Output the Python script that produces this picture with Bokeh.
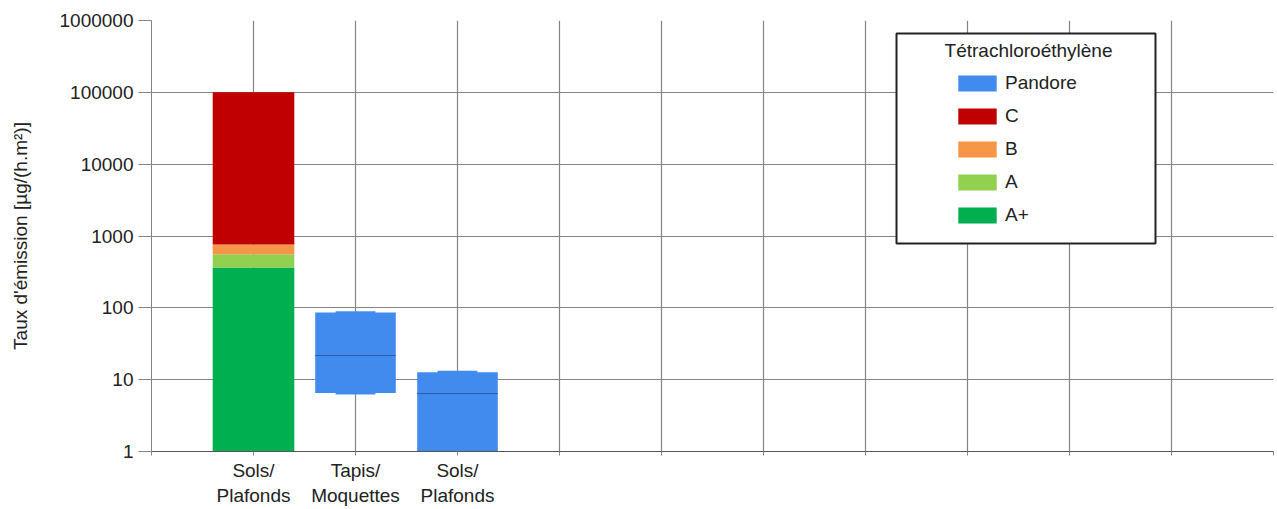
from bokeh.plotting import figure
from bokeh.models import (Range1d, FixedTicker, Legend, LegendItem, BoxAnnotation, Label)
from bokeh.embed import file_html
from bokeh.resources import INLINE

# ---------------- data ----------------
category_labels = ["Sols/\nPlafonds", "Tapis/\nMoquettes", "Sols/\nPlafonds"]
category_pos = [1, 2, 3]
n_slots = 11

# stacked label classes (first category)
class_names = ["A+", "A", "B", "C"]
class_tops = [365, 555, 760, 100000]
class_colors = ["#00b050", "#92d050", "#f79646", "#c00000"]

# Pandore distributions (categories 2 and 3)
pandore_pos = [2, 3]
pandore_min = [6.2, 1]
pandore_q1 = [6.5, 1]
pandore_median = [21.7, 6.4]
pandore_q3 = [86, 12.7]
pandore_max = [89.5, 13.3]
pandore_color = "#418bee"

y_ticks = [1, 10, 100, 1000, 10000, 100000, 1000000]
y_tick_labels = ["1", "10", "100", "1000", "10000", "100000", "1000000"]

legend_title = "Tétrachloroéthylène"
y_title = "Taux d'émission [µg/(h.m²)]"

FONT = "Liberation Sans"
GRID = "#858585"

p = figure(width=1277, height=509, x_range=Range1d(0, n_slots), y_range=Range1d(1, 1e6),
           y_axis_type="log", output_backend="svg", toolbar_location=None,
           min_border_left=151, min_border_right=4, min_border_top=20, min_border_bottom=58)
p.outline_line_color = None
p.background_fill_color = "white"

# stacked bar
bottoms = [1] + class_tops[:-1]
class_renderers = {}
for name, b, t, c in zip(class_names, bottoms, class_tops, class_colors):
    r = p.vbar(x=[category_pos[0]], bottom=[b], top=[t], width=0.8,
               fill_color=c, line_color=None)
    class_renderers[name] = r

# Pandore boxes
r_p1 = p.vbar(x=pandore_pos, bottom=pandore_min, top=pandore_max, width=0.39,
              fill_color=pandore_color, line_color=None)
r_p2 = p.vbar(x=pandore_pos, bottom=pandore_q1, top=pandore_q3, width=0.79,
              fill_color=pandore_color, line_color=None)
p.segment(x0=[x - 0.395 for x in pandore_pos], x1=[x + 0.395 for x in pandore_pos],
          y0=pandore_median, y1=pandore_median, line_color="#355e94", line_width=1)

# axes
p.xaxis.ticker = FixedTicker(ticks=list(range(0, n_slots + 1)))
p.xaxis.major_label_overrides = {i: "" for i in range(0, n_slots + 1)}
p.xaxis.major_label_overrides.update({pos: lab for pos, lab in zip(category_pos, category_labels)})
p.xaxis.major_label_text_font = FONT
p.xaxis.major_label_text_font_size = "19px"
p.xaxis.major_label_text_color = "#222222"
p.xaxis.major_label_text_line_height = 1.2
p.xaxis.major_label_standoff = 4
p.xaxis.major_tick_out = 4
p.xaxis.major_tick_in = 0
p.xaxis.minor_tick_out = 0
p.xaxis.major_tick_line_color = GRID
p.xaxis.axis_line_color = "#555555"

p.yaxis.ticker = FixedTicker(ticks=y_ticks)
p.yaxis.major_label_overrides = {t: l for t, l in zip(y_ticks, y_tick_labels)}
p.yaxis.major_label_text_font = FONT
p.yaxis.major_label_text_font_size = "19px"
p.yaxis.major_label_text_color = "#222222"
p.yaxis.major_label_standoff = 5
p.yaxis.major_tick_out = 13
p.yaxis.major_tick_in = 0
p.yaxis.minor_tick_out = 0
p.yaxis.minor_tick_in = 0
p.yaxis.major_tick_line_color = GRID
p.yaxis.axis_line_color = GRID
p.yaxis.axis_label = y_title
p.yaxis.axis_label_text_font = FONT
p.yaxis.axis_label_text_font_size = "19px"
p.yaxis.axis_label_text_font_style = "normal"
p.yaxis.axis_label_text_color = "#222222"
p.yaxis.axis_label_standoff = 26

p.xgrid.grid_line_color = GRID
p.ygrid.grid_line_color = GRID
p.xgrid.grid_line_width = 1.2
p.ygrid.grid_line_width = 1.2
p.ygrid.minor_grid_line_color = None

# legend frame + title
box = BoxAnnotation(left=7.304, right=9.843, bottom=787, top=659500,
                    fill_color="white", fill_alpha=1.0,
                    line_color="#222222", line_alpha=1.0, line_width=2)
p.add_layout(box)
title = Label(x=8.598, y=382800, text=legend_title, text_align="center", text_baseline="middle",
              text_font=FONT, text_font_size="19px", text_color="#222222")
p.add_layout(title)

items = [LegendItem(label="Pandore", renderers=[r_p2])]
for name in ["C", "B", "A", "A+"]:
    items.append(LegendItem(label=name, renderers=[class_renderers[name]]))
legend = Legend(items=items, location=(802, 225), orientation="vertical",
                padding=0, margin=0, spacing=11, glyph_width=48, glyph_height=20,
                label_height=20, label_standoff=4,
                label_text_font=FONT, label_text_font_size="19px", label_text_color="#222222",
                background_fill_alpha=0, border_line_color=None)
p.add_layout(legend)

open("out.html", "w").write(file_html(p, INLINE))
